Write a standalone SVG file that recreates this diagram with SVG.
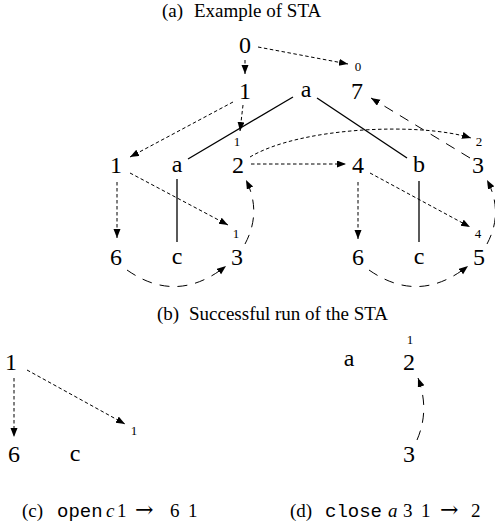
<svg xmlns="http://www.w3.org/2000/svg" width="495" height="529" viewBox="0 0 495 529">
<style>
text{font-family:"Liberation Serif","Times New Roman",serif;fill:#000}
.lb{font-family:"Liberation Serif","Times New Roman",serif;font-size:24px;text-anchor:middle}
.sm{font-family:"Liberation Serif","Times New Roman",serif;font-size:13px;text-anchor:middle}
.cap{font-family:"Liberation Serif","Times New Roman",serif;font-size:19px}
.tt{font-family:"Liberation Mono","Courier New",monospace;font-size:19px}
.ar{font-family:"DejaVu Serif",serif;font-size:22px}
.it{font-style:italic}
.tree{stroke:#000;stroke-width:1.3;fill:none}
.sd{stroke:#000;stroke-width:1;fill:none;stroke-dasharray:3.5 2.5;marker-end:url(#ah)}
.ld{stroke:#000;stroke-width:1;fill:none;stroke-dasharray:10 8;marker-end:url(#ah)}
</style>
<defs>
<marker id="ah" markerUnits="userSpaceOnUse" markerWidth="10" markerHeight="8" refX="9" refY="3.5" orient="auto">
<path d="M0,0 L9,3.5 L0,7 z" fill="#000"/>
</marker>
</defs>
<g id="captions">
<text class="cap" x="162" y="17">(a)<tspan x="194">Example of STA</tspan></text>
<text class="cap" x="157" y="320">(b)<tspan x="189">Successful run of the STA</tspan></text>
<text class="cap" x="22" y="517">(c)<tspan x="57" class="tt">open</tspan><tspan x="106" class="it">c</tspan><tspan x="117">1</tspan><tspan x="135" class="ar">→</tspan><tspan x="170">6</tspan><tspan x="188">1</tspan></text>
<text class="cap" x="290" y="517">(d)<tspan x="325" class="tt">close</tspan><tspan x="388" class="it">a</tspan><tspan x="403">3</tspan><tspan x="421">1</tspan><tspan x="440" class="ar">→</tspan><tspan x="471">2</tspan></text>
</g>
<g id="tree">
<line class="tree" x1="293" y1="97" x2="188" y2="159"/>
<line class="tree" x1="317" y1="98" x2="407" y2="158"/>
<line class="tree" x1="177" y1="179" x2="177" y2="242"/>
<line class="tree" x1="419" y1="181" x2="419" y2="242"/>
</g>
<g id="connectors">
<path class="sd" d="M258,47 L348,64"/>
<path class="sd" d="M245,60 L245,74"/>
<path class="sd" d="M233,102 L130,157"/>
<path class="sd" d="M243,105 L240,131"/>
<path class="sd" d="M251,164 L346,164"/>
<path class="sd" d="M250,157 C300,127 420,122 471,138"/>
<path class="ld" d="M470,158 L371,98"/>
<path class="sd" d="M117,182 L117,238"/>
<path class="sd" d="M130,173 L228,225"/>
<path class="ld" d="M245,244 Q262,212 246,180"/>
<path class="ld" d="M127,270 Q177,305 226,266"/>
<path class="sd" d="M358,182 L358,239"/>
<path class="sd" d="M370,173 L470,227"/>
<path class="ld" d="M487,244 Q504,212 487,180"/>
<path class="ld" d="M369,270 Q419,305 468,266"/>
<path class="sd" d="M14,378 L14,437"/>
<path class="sd" d="M27,370 L125,424"/>
<path class="ld" d="M417,440 Q430,410 418,378"/>
</g>
<g id="n0"><text class="lb" x="245" y="53">0</text></g>
<g id="n1"><text class="lb" x="245" y="99">1</text></g>
<g id="na"><text class="lb" x="306" y="97">a</text></g>
<g id="n7"><text class="lb" x="357" y="99">7</text></g>
<g id="s0"><text class="sm" x="358" y="71">0</text></g>
<g id="n1l"><text class="lb" x="116" y="173">1</text></g>
<g id="na2"><text class="lb" x="177" y="172">a</text></g>
<g id="n2"><text class="lb" x="238" y="173">2</text></g>
<g id="s1a"><text class="sm" x="237" y="146">1</text></g>
<g id="n4"><text class="lb" x="358" y="173">4</text></g>
<g id="nb"><text class="lb" x="419" y="172">b</text></g>
<g id="n3r"><text class="lb" x="478" y="173">3</text></g>
<g id="s2"><text class="sm" x="479" y="146">2</text></g>
<g id="s1b"><text class="sm" x="236" y="238">1</text></g>
<g id="s4"><text class="sm" x="478" y="238">4</text></g>
<g id="n6l"><text class="lb" x="116" y="265">6</text></g>
<g id="nc1"><text class="lb" x="177" y="264">c</text></g>
<g id="n3"><text class="lb" x="237" y="265">3</text></g>
<g id="n6r"><text class="lb" x="358" y="265">6</text></g>
<g id="nc2"><text class="lb" x="419" y="264">c</text></g>
<g id="n5"><text class="lb" x="479" y="265">5</text></g>
<g id="c1"><text class="lb" x="11" y="370">1</text></g>
<g id="c6"><text class="lb" x="14" y="462">6</text></g>
<g id="cc"><text class="lb" x="75" y="461">c</text></g>
<g id="cs1"><text class="sm" x="134" y="435">1</text></g>
<g id="da"><text class="lb" x="349" y="366">a</text></g>
<g id="d2"><text class="lb" x="409" y="370">2</text></g>
<g id="ds1"><text class="sm" x="410" y="344">1</text></g>
<g id="d3"><text class="lb" x="409" y="462">3</text></g>
</svg>
